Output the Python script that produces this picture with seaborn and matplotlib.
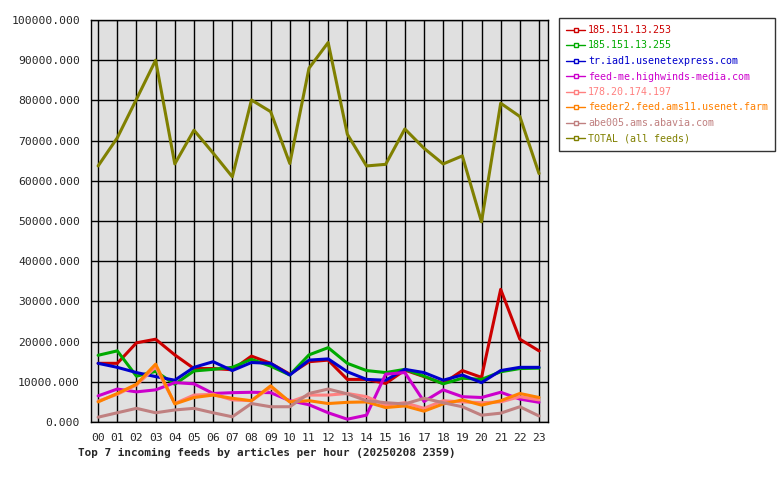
import matplotlib
matplotlib.use('Agg')
import matplotlib.pyplot as plt
import seaborn as sns
import pandas as pd
from matplotlib.lines import Line2D
from matplotlib.ticker import FormatStrFormatter

hours = ['00', '01', '02', '03', '04', '05', '06', '07', '08', '09', '10', '11',
         '12', '13', '14', '15', '16', '17', '18', '19', '20', '21', '22', '23']

feedNames = ['185.151.13.253', '185.151.13.255', 'tr.iad1.usenetexpress.com',
             'feed-me.highwinds-media.com', '178.20.174.197',
             'feeder2.feed.ams11.usenet.farm', 'abe005.ams.abavia.com',
             'TOTAL (all feeds)']
feedColors = ['#cc0000', '#00aa00', '#0000cc', '#cc00cc', '#ff8080',
              '#ff8000', '#c08080', '#808000']

# articles per hour
red = [14600, 14600, 19700, 20600, 16700, 13300, 13300, 13000, 16400, 14600, 11900, 15000,
       15400, 10600, 10600, 9600, 12900, 11300, 9600, 12800, 11100, 33000, 20600, 17700]
green = [16600, 17700, 11400, 12600, 9400, 12700, 13100, 13600, 15600, 13900, 11700, 16700,
         18500, 14600, 12800, 12300, 13100, 11400, 9500, 10900, 10600, 12500, 13300, 13400]
blue = [14600, 13600, 12300, 11300, 10400, 13600, 15000, 12800, 14800, 14600, 11700, 15400,
        15700, 12500, 10600, 10400, 13100, 12300, 10400, 11700, 9800, 12800, 13600, 13600]
magenta = [6500, 8200, 7500, 8000, 9800, 9500, 7100, 7300, 7400, 7300, 5300, 4300,
           2300, 700, 1700, 11900, 12300, 5100, 8000, 6300, 6100, 7400, 5700, 4900]
pink = [5200, 6900, 9200, 13700, 4600, 6700, 6900, 5500, 5300, 8600, 5000, 6700,
        6700, 7100, 6300, 4200, 4800, 3400, 5300, 5000, 4800, 5000, 6300, 5500]
orange = [5000, 7100, 9400, 14400, 4500, 6100, 6700, 5900, 5300, 9000, 5000, 5300,
          4600, 4900, 5000, 3600, 4000, 2700, 4500, 5500, 4200, 5300, 7100, 6100]
rosy = [1200, 2300, 3400, 2300, 3000, 3400, 2300, 1300, 4600, 3800, 3800, 7100,
        8200, 7000, 5300, 4800, 4500, 5900, 4800, 3800, 1700, 2200, 3800, 1500]
total = [63700, 70700, 80300, 90000, 64200, 72600, 66900, 61000, 80100, 77200, 64300, 88000,
         94400, 71600, 63700, 64100, 72900, 68100, 64200, 66200, 49800, 79300, 76000, 61800]

allSeries = [red, green, blue, magenta, pink, orange, rosy, total]

rows = []
for name, vals in zip(feedNames, allSeries):
    for h, v in enumerate(vals):
        rows.append({'hour': h, 'feed': name, 'articles': v})
df = pd.DataFrame(rows)

sns.set_style('white')
plt.rcParams['font.family'] = ['DejaVu Sans Mono']

fig = plt.figure(figsize=(7.8, 4.8), dpi=100)
ax = fig.add_axes([0.1167, 0.1208, 0.5859, 0.8375])
ax.set_facecolor('#e0e0e0')

sns.lineplot(data=df, x='hour', y='articles', hue='feed', hue_order=feedNames,
             palette=feedColors, linewidth=2.2, legend=False, ax=ax)

ax.set_xlim(-0.37, 23.47)
ax.set_ylim(0, 100000)
ax.set_xticks(range(24))
ax.set_xticklabels(hours)
ax.set_yticks(range(0, 100001, 10000))
ax.yaxis.set_major_formatter(FormatStrFormatter('%.3f'))
ax.grid(True, color='black', linewidth=1)
ax.set_axisbelow(True)
for s in ax.spines.values():
    s.set_color('black')
    s.set_linewidth(1)
ax.tick_params(axis='both', direction='out', length=5, width=1, color='black',
               labelsize=8.2, pad=3)
ax.set_ylabel('')
ax.set_xlabel('')
fig.text(0.1, 0.057, 'Top 7 incoming feeds by articles per hour (20250208 2359)',
         fontsize=7.9, fontweight='bold', ha='left', va='center')

handles = [Line2D([0], [0], color=c, linewidth=1, marker='s', markersize=2.5,
                  markerfacecolor='white', markeredgecolor=c)
           for c in feedColors]
leg = fig.legend(handles, feedNames, loc='upper left', bbox_to_anchor=(0.7167, 0.9625),
                 fontsize=7.2, frameon=True, fancybox=False, edgecolor='black',
                 handlelength=1.9, handletextpad=0.3, labelspacing=0.55,
                 borderpad=0.7, borderaxespad=0)
leg.get_frame().set_linewidth(1)
for txt, c in zip(leg.get_texts(), feedColors):
    txt.set_color(c)

fig.savefig('out.png', dpi=100)
